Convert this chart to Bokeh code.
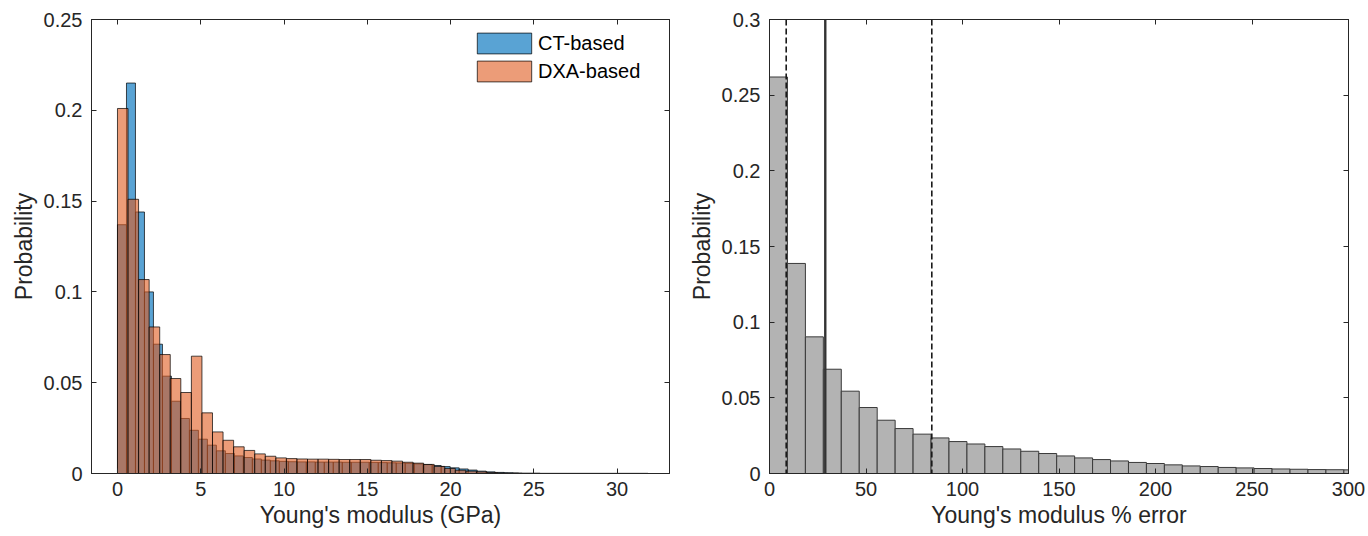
from bokeh.plotting import figure
from bokeh.layouts import row
from bokeh.models import Range1d, FixedTicker, LinearAxis, Span, CustomLabelingPolicy
from bokeh.embed import file_html
from bokeh.resources import INLINE

# ---------------- data ----------------
# Left panel: probability histograms of Young's modulus (GPa)
ct_bin_width = 0.54
ct_values = [0.137, 0.215, 0.144, 0.100, 0.0712, 0.0536, 0.0398, 0.0303, 0.0238, 0.0189,
             0.0156, 0.0125, 0.0110, 0.0097, 0.0088, 0.0080, 0.0074, 0.0070, 0.0067, 0.0065,
             0.0064, 0.0064, 0.0063, 0.0063, 0.0063, 0.0062, 0.0062, 0.0062, 0.0061, 0.0060,
             0.0059, 0.0058, 0.0056, 0.0053, 0.0049, 0.0044, 0.0038, 0.0031, 0.0025, 0.0019,
             0.0013, 0.0009, 0.0006, 0.0004, 0.0003, 0.0002, 0.0002, 0.0001, 0.0001, 0.0001,
             0.0001, 0.0001, 0.0001, 0.0001, 0.0001, 0.0001, 0.0001, 0.0001, 0.0001]
dxa_bin_width = 0.634
dxa_values = [0.201, 0.151, 0.1068, 0.0807, 0.0655, 0.0523, 0.0446, 0.0646, 0.0334, 0.0229,
              0.0183, 0.0147, 0.0127, 0.0108, 0.0095, 0.0086, 0.0082, 0.0080, 0.0079, 0.0079,
              0.0078, 0.0077, 0.0077, 0.0077, 0.0073, 0.0071, 0.0068, 0.0062, 0.0057, 0.0050,
              0.0039, 0.0028, 0.0018, 0.0013, 0.0009, 0.0005, 0.0003, 0.0002]
left_xticks = [0, 5, 10, 15, 20, 25, 30]
left_yticks = [0, 0.05, 0.1, 0.15, 0.2, 0.25]
left_ytick_labels = ["0", "0.05", "0.1", "0.15", "0.2", "0.25"]
series_labels = ["CT-based", "DXA-based"]

# Right panel: histogram of Young's modulus % error
err_bin_width = 9.3
err_values = [0.262, 0.1388, 0.0903, 0.0689, 0.0544, 0.0436, 0.0352, 0.0297, 0.0260, 0.0235,
              0.0211, 0.0195, 0.0178, 0.0162, 0.0147, 0.0132, 0.0116, 0.0103, 0.0092, 0.0083,
              0.0073, 0.0066, 0.0057, 0.0050, 0.0046, 0.0040, 0.0037, 0.0033, 0.0030, 0.0028,
              0.0026, 0.0025, 0.0024]
err_median = [28.9]
err_bounds = [8.65, 84.1]
right_xticks = [0, 50, 100, 150, 200, 250, 300]
right_yticks = [0, 0.05, 0.1, 0.15, 0.2, 0.25, 0.3]
right_ytick_labels = ["0", "0.05", "0.1", "0.15", "0.2", "0.25", "0.3"]

FONT = "Liberation Sans"
TXT = "#262626"

NO_LABELS = CustomLabelingPolicy(code="""
for (let i = 0; i < indices.size; i++) { indices.unset(i) }
return indices
""")


def edges(values, width):
    left = [i * width for i in range(len(values))]
    right = [(i + 1) * width for i in range(len(values))]
    return left, right


def style(p, xticks, yticks, ylabels, xlabel, ylabel):
    p.grid.visible = False
    p.outline_line_color = TXT
    p.outline_line_width = 1
    for ax in (p.xaxis[0], p.yaxis[0]):
        ax.major_tick_in = 5
        ax.major_tick_out = 0
        ax.minor_tick_line_color = None
        ax.axis_line_color = TXT
        ax.major_tick_line_color = TXT
        ax.major_label_text_font = FONT
        ax.major_label_text_font_size = "20px"
        ax.major_label_text_color = TXT
        ax.axis_label_text_font = FONT
        ax.axis_label_text_font_size = "23px"
        ax.axis_label_text_font_style = "normal"
        ax.axis_label_text_color = TXT
    p.xaxis[0].ticker = FixedTicker(ticks=xticks)
    p.yaxis[0].ticker = FixedTicker(ticks=yticks)
    p.yaxis[0].major_label_overrides = {t: s for t, s in zip(yticks, ylabels)}
    p.xaxis[0].axis_label = xlabel
    p.yaxis[0].axis_label = ylabel
    p.xaxis[0].major_label_standoff = 8
    p.yaxis[0].major_label_standoff = 9
    p.xaxis[0].axis_label_standoff = 3
    p.yaxis[0].axis_label_standoff = 4
    for ticks, side in ((xticks, "above"), (yticks, "right")):
        ax = LinearAxis(ticker=FixedTicker(ticks=ticks), major_tick_in=5, major_tick_out=0,
                        minor_tick_line_color=None, major_label_policy=NO_LABELS,
                        major_label_text_font_size="1px",
                        major_label_standoff=0, axis_line_color=TXT, major_tick_line_color=TXT)
        p.add_layout(ax, side)


# ---------------- left panel ----------------
p1 = figure(width=684, height=536, x_range=Range1d(-1.56, 33.15), y_range=Range1d(0, 0.25),
            output_backend="svg", toolbar_location=None,
            min_border_left=91, min_border_right=15, min_border_top=19, min_border_bottom=63)
cl, cr = edges(ct_values, ct_bin_width)
p1.quad(left=cl, right=cr, bottom=0, top=ct_values, fill_color="#0072BD", fill_alpha=0.65,
        line_color="#000000", line_alpha=0.7, line_width=1, legend_label=series_labels[0])
dl, dr = edges(dxa_values, dxa_bin_width)
p1.quad(left=dl, right=dr, bottom=0, top=dxa_values, fill_color="#E05A1E", fill_alpha=0.6,
        line_color="#000000", line_alpha=0.7, line_width=1, legend_label=series_labels[1])
style(p1, left_xticks, left_yticks, left_ytick_labels, "Young's modulus (GPa)", "Probability")
lg = p1.legend[0]
lg.location = "top_right"
lg.border_line_color = None
lg.background_fill_alpha = 0
lg.glyph_width = 68
lg.glyph_height = 26
lg.label_text_font = FONT
lg.label_text_font_size = "20px"
lg.label_text_color = "#000000"
lg.label_width = 120
lg.spacing = 2
lg.margin = 11
lg.padding = 6
lg.label_standoff = -3

# ---------------- right panel ----------------
p2 = figure(width=684, height=536, x_range=Range1d(0, 300), y_range=Range1d(0, 0.3),
            output_backend="svg", toolbar_location=None,
            min_border_left=85, min_border_right=20, min_border_top=19, min_border_bottom=63)
el, er = edges(err_values, err_bin_width)
p2.quad(left=el, right=er, bottom=0, top=err_values, fill_color="#B3B3B3",
        line_color="#3A3A3A", line_width=1)
for v in err_bounds:
    p2.add_layout(Span(location=v, dimension="height", line_color="#1A1A1A",
                       line_width=1.6, line_dash="6 3"))
for v in err_median:
    p2.add_layout(Span(location=v, dimension="height", line_color="#333333", line_width=2.4))
style(p2, right_xticks, right_yticks, right_ytick_labels, "Young's modulus % error", "Probability")

layout = row(p1, p2)
open("out.html", "w").write(file_html(layout, INLINE))
